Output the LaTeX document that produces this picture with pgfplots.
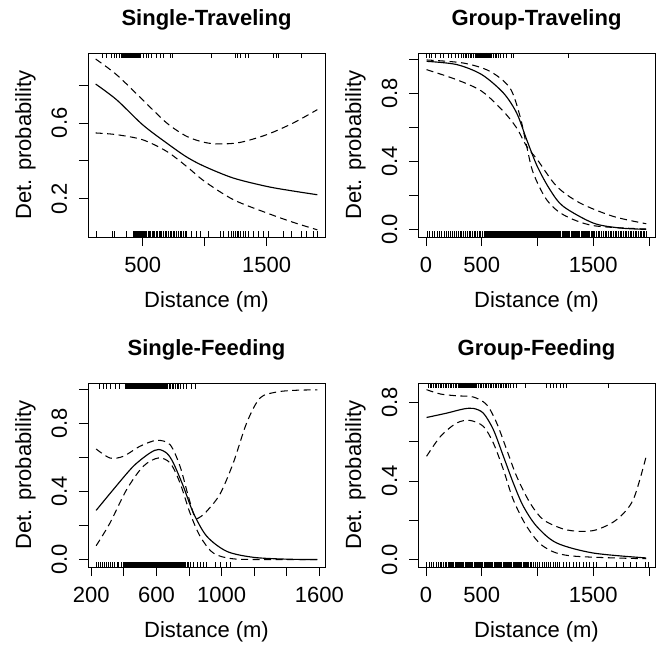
\documentclass[border=0pt]{standalone}
\usepackage{pgfplots}
\pgfplotsset{compat=1.18}
\usepackage{fontspec}
\setmainfont{Liberation Sans}
\pgfdeclareplotmark{rugb}{\pgfpathmoveto{\pgfpointorigin}\pgfpathlineto{\pgfpoint{0pt}{5.5pt}}\pgfusepathqstroke}
\pgfdeclareplotmark{rugt}{\pgfpathmoveto{\pgfpointorigin}\pgfpathlineto{\pgfpoint{0pt}{-5.5pt}}\pgfusepathqstroke}
\pgfplotsset{
  rpanel/.style={
    scale only axis, width=237pt, height=184pt,
    axis line style={line width=0.8pt},
    tick align=outside, major tick length=9pt,
    tick style={line width=0.8pt, black},
    xtick pos=bottom, ytick pos=left,
    font=\fontsize{22}{26}\selectfont,
    /pgf/number format/assume math mode=true,
    xticklabel style={anchor=base, font=\fontsize{22}{26}\selectfont},
    xticklabel shift=26pt,
    yticklabel style={rotate=90, anchor=base, font=\fontsize{22}{26}\selectfont},
    yticklabel shift=12pt,
    title style={at={(axis description cs:0.5,1)}, anchor=base, yshift=21.5pt, font=\fontsize{22}{26}\selectfont\bfseries},
    xlabel style={at={([yshift=-70pt]axis description cs:0.5,0)}, anchor=base},
    ylabel style={at={([xshift=-57pt]axis description cs:0,0.5)}, anchor=base, rotate=0},
    xlabel={Distance (m)}, ylabel={Det. probability},
  },
  fit/.style={black, line width=1.15pt, smooth, no marks},
  ci/.style={black, line width=1.05pt, smooth, no marks, dash pattern=on 7pt off 4.5pt},
  rugB/.style={only marks, mark=rugb, mark options={line width=0.9pt, black}},
  rugT/.style={only marks, mark=rugt, mark options={line width=0.9pt, black}},
}
\begin{document}
\begin{tikzpicture}
\useasboundingbox (0,0) rectangle (660pt,646pt);
% ---------------- Single-Traveling
\begin{axis}[rpanel, at={(88pt,409pt)}, anchor=south west,
  title={Single-Traveling},
  xmin=59, xmax=1970, ymin=-0.002, ymax=0.969,
  xtick={500,1000,1500}, xticklabels={500,{},1500},
  ytick={0.2,0.4,0.6,0.8}, yticklabels={0.2,{},0.6,{}}]
\addplot[fit] coordinates {(121,0.805) (290,0.722) (500,0.590) (693,0.494) (855,0.420) (1000,0.370) (1231,0.309) (1500,0.265) (1700,0.242) (1908,0.221)};
\addplot[ci] coordinates {(121,0.937) (290,0.854) (500,0.722) (693,0.600) (855,0.529) (1000,0.497) (1124,0.489) (1285,0.497) (1500,0.538) (1715,0.600) (1908,0.670)};
\addplot[ci] coordinates {(121,0.547) (290,0.538) (500,0.511) (693,0.450) (855,0.370) (1000,0.291) (1231,0.195) (1500,0.125) (1715,0.075) (1908,0.036)};
\addplot[rugT] coordinates {(177,0.969) (204,0.969) (250,0.969) (271,0.969) (290,0.969) (311,0.969) (331,0.969) (338,0.969) (345,0.969) (356,0.969) (362,0.969) (368,0.969) (378,0.969) (384,0.969) (390,0.969) (400,0.969) (405,0.969) (410,0.969) (420,0.969) (426,0.969) (432,0.969) (442,0.969) (448,0.969) (455,0.969) (466,0.969) (472,0.969) (478,0.969) (505,0.969) (532,0.969) (545,0.969) (573,0.969) (613,0.969) (640,0.969) (666,0.969) (720,0.969) (742,0.969) (1056,0.969) (1244,0.969) (1263,0.969) (1285,0.969) (1325,0.969) (1352,0.969) (1553,0.969) (1575,0.969) (1594,0.969) (1782,0.969)};
\addplot[rugB] coordinates {(129,-0.002) (255,-0.002) (271,-0.002) (371,-0.002) (424,-0.002) (430,-0.002) (436,-0.002) (442,-0.002) (448,-0.002) (454,-0.002) (460,-0.002) (465,-0.002) (470,-0.002) (478,-0.002) (484,-0.002) (490,-0.002) (500,-0.002) (506,-0.002) (512,-0.002) (518,-0.002) (524,-0.002) (532,-0.002) (545,-0.002) (556,-0.002) (566,-0.002) (578,-0.002) (586,-0.002) (598,-0.002) (610,-0.002) (620,-0.002) (632,-0.002) (640,-0.002) (652,-0.002) (664,-0.002) (680,-0.002) (694,-0.002) (706,-0.002) (720,-0.002) (735,-0.002) (747,-0.002) (760,-0.002) (775,-0.002) (790,-0.002) (801,-0.002) (815,-0.002) (830,-0.002) (842,-0.002) (855,-0.002) (895,-0.002) (935,-0.002) (962,-0.002) (1029,-0.002) (1124,-0.002) (1150,-0.002) (1190,-0.002) (1215,-0.002) (1231,-0.002) (1250,-0.002) (1262,-0.002) (1271,-0.002) (1290,-0.002) (1311,-0.002) (1330,-0.002) (1352,-0.002) (1392,-0.002) (1432,-0.002) (1473,-0.002) (1513,-0.002) (1634,-0.002) (1702,-0.002) (1782,-0.002) (1823,-0.002) (1876,-0.002) (1908,-0.002)};
\end{axis}
% ---------------- Group-Traveling
\begin{axis}[rpanel, at={(418pt,409pt)}, anchor=south west,
  title={Group-Traveling},
  xmin=-72, xmax=2054, ymin=-0.043, ymax=1.039,
  xtick={0,500,1000,1500,2000}, xticklabels={0,500,{},1500,{}},
  ytick={0,0.2,0.4,0.6,0.8,1}, yticklabels={0.0,{},0.4,{},0.8,{}}]
\addplot[fit] coordinates {(5,0.990) (275,0.971) (500,0.912) (694,0.804) (813,0.686) (903,0.529) (998,0.372) (1112,0.235) (1231,0.137) (1500,0.039) (1740,0.010) (1975,0.002)};
\addplot[ci] coordinates {(5,0.998) (335,0.980) (574,0.931) (753,0.833) (843,0.667) (903,0.490) (962,0.333) (1082,0.176) (1231,0.088) (1500,0.024) (1975,0.004)};
\addplot[ci] coordinates {(5,0.941) (275,0.882) (500,0.814) (694,0.696) (813,0.598) (903,0.490) (998,0.412) (1172,0.255) (1381,0.157) (1680,0.078) (1975,0.035)};
\addplot[rugT] coordinates {(6,1.039) (27,1.039) (51,1.039) (81,1.039) (132,1.039) (155,1.039) (200,1.039) (230,1.039) (260,1.039) (289,1.039) (319,1.039) (335,1.039) (350,1.039) (365,1.039) (380,1.039) (395,1.039) (410,1.039) (425,1.039) (440,1.039) (455,1.039) (462,1.039) (470,1.039) (478,1.039) (485,1.039) (492,1.039) (500,1.039) (508,1.039) (515,1.039) (522,1.039) (530,1.039) (538,1.039) (545,1.039) (552,1.039) (560,1.039) (568,1.039) (575,1.039) (582,1.039) (590,1.039) (605,1.039) (620,1.039) (635,1.039) (650,1.039) (664,1.039) (694,1.039) (724,1.039) (769,1.039) (783,1.039) (1276,1.039)};
\addplot[rugB] coordinates {(10,-0.043) (30,-0.043) (55,-0.043) (75,-0.043) (100,-0.043) (120,-0.043) (140,-0.043) (165,-0.043) (185,-0.043) (200,-0.043) (220,-0.043) (240,-0.043) (255,-0.043) (270,-0.043) (290,-0.043) (305,-0.043) (320,-0.043) (340,-0.043) (355,-0.043) (370,-0.043) (385,-0.043) (400,-0.043) (415,-0.043) (430,-0.043) (445,-0.043) (460,-0.043) (475,-0.043) (490,-0.043) (505,-0.043) (520,-0.043) (525,-0.043) (530,-0.043) (535,-0.043) (540,-0.043) (545,-0.043) (550,-0.043) (555,-0.043) (560,-0.043) (565,-0.043) (570,-0.043) (575,-0.043) (580,-0.043) (585,-0.043) (590,-0.043) (595,-0.043) (600,-0.043) (605,-0.043) (610,-0.043) (615,-0.043) (620,-0.043) (625,-0.043) (630,-0.043) (635,-0.043) (640,-0.043) (645,-0.043) (650,-0.043) (655,-0.043) (660,-0.043) (665,-0.043) (670,-0.043) (675,-0.043) (680,-0.043) (685,-0.043) (690,-0.043) (695,-0.043) (700,-0.043) (705,-0.043) (710,-0.043) (715,-0.043) (720,-0.043) (725,-0.043) (730,-0.043) (735,-0.043) (740,-0.043) (745,-0.043) (750,-0.043) (755,-0.043) (760,-0.043) (765,-0.043) (770,-0.043) (775,-0.043) (780,-0.043) (785,-0.043) (790,-0.043) (795,-0.043) (800,-0.043) (805,-0.043) (810,-0.043) (815,-0.043) (820,-0.043) (825,-0.043) (830,-0.043) (835,-0.043) (840,-0.043) (845,-0.043) (850,-0.043) (855,-0.043) (860,-0.043) (865,-0.043) (870,-0.043) (875,-0.043) (880,-0.043) (885,-0.043) (890,-0.043) (895,-0.043) (900,-0.043) (905,-0.043) (910,-0.043) (915,-0.043) (920,-0.043) (925,-0.043) (930,-0.043) (937,-0.043) (945,-0.043) (952,-0.043) (960,-0.043) (967,-0.043) (975,-0.043) (982,-0.043) (990,-0.043) (997,-0.043) (1005,-0.043) (1012,-0.043) (1020,-0.043) (1027,-0.043) (1035,-0.043) (1042,-0.043) (1050,-0.043) (1057,-0.043) (1065,-0.043) (1072,-0.043) (1080,-0.043) (1087,-0.043) (1095,-0.043) (1102,-0.043) (1110,-0.043) (1117,-0.043) (1125,-0.043) (1132,-0.043) (1140,-0.043) (1150,-0.043) (1160,-0.043) (1170,-0.043) (1180,-0.043) (1190,-0.043) (1200,-0.043) (1210,-0.043) (1220,-0.043) (1230,-0.043) (1240,-0.043) (1250,-0.043) (1260,-0.043) (1270,-0.043) (1280,-0.043) (1290,-0.043) (1300,-0.043) (1310,-0.043) (1320,-0.043) (1330,-0.043) (1340,-0.043) (1350,-0.043) (1360,-0.043) (1370,-0.043) (1380,-0.043) (1390,-0.043) (1400,-0.043) (1410,-0.043) (1420,-0.043) (1430,-0.043) (1440,-0.043) (1450,-0.043) (1460,-0.043) (1470,-0.043) (1480,-0.043) (1490,-0.043) (1500,-0.043) (1515,-0.043) (1530,-0.043) (1545,-0.043) (1560,-0.043) (1575,-0.043) (1590,-0.043) (1605,-0.043) (1620,-0.043) (1635,-0.043) (1650,-0.043) (1665,-0.043) (1680,-0.043) (1695,-0.043) (1710,-0.043) (1725,-0.043) (1740,-0.043) (1755,-0.043) (1770,-0.043) (1785,-0.043) (1800,-0.043) (1815,-0.043) (1830,-0.043) (1845,-0.043) (1860,-0.043) (1875,-0.043) (1890,-0.043) (1905,-0.043) (1920,-0.043) (1935,-0.043) (1950,-0.043) (1962,-0.043) (1975,-0.043)};
\end{axis}
% ---------------- Single-Feeding
\begin{axis}[rpanel, at={(88pt,79pt)}, anchor=south west,
  title={Single-Feeding},
  xmin=180, xmax=1635, ymin=-0.043, ymax=1.039,
  xtick={200,400,600,800,1000,1200,1400,1600}, xticklabels={200,{},600,{},1000,{},{},1600},
  ytick={0,0.2,0.4,0.6,0.8,1}, yticklabels={0.0,{},0.4,{},0.8,{}}]
\addplot[fit] coordinates {(230,0.290) (335,0.412) (458,0.549) (561,0.628) (615,0.648) (665,0.625) (704,0.569) (765,0.432) (827,0.275) (909,0.138) (1032,0.049) (1195,0.014) (1400,0.003) (1588,0.001)};
\addplot[ci] coordinates {(230,0.651) (315,0.598) (397,0.608) (499,0.667) (602,0.702) (684,0.676) (745,0.549) (796,0.373) (837,0.249) (870,0.252) (909,0.285) (990,0.385) (1072,0.569) (1154,0.804) (1236,0.951) (1339,0.986) (1450,0.996) (1588,0.999)};
\addplot[ci] coordinates {(230,0.082) (315,0.216) (417,0.412) (519,0.549) (611,0.598) (684,0.569) (745,0.451) (806,0.275) (868,0.138) (950,0.039) (1072,0.005) (1300,0.001) (1588,0.000)};
\addplot[rugT] coordinates {(253,1.039) (274,1.039) (295,1.039) (315,1.039) (346,1.039) (372,1.039) (407,1.039) (412,1.039) (417,1.039) (422,1.039) (427,1.039) (432,1.039) (437,1.039) (442,1.039) (447,1.039) (452,1.039) (457,1.039) (462,1.039) (467,1.039) (472,1.039) (477,1.039) (482,1.039) (487,1.039) (492,1.039) (497,1.039) (502,1.039) (507,1.039) (512,1.039) (517,1.039) (522,1.039) (527,1.039) (532,1.039) (537,1.039) (542,1.039) (547,1.039) (552,1.039) (557,1.039) (562,1.039) (567,1.039) (572,1.039) (577,1.039) (582,1.039) (587,1.039) (592,1.039) (597,1.039) (602,1.039) (607,1.039) (612,1.039) (617,1.039) (622,1.039) (627,1.039) (632,1.039) (637,1.039) (642,1.039) (647,1.039) (652,1.039) (657,1.039) (662,1.039) (667,1.039) (677,1.039) (687,1.039) (697,1.039) (707,1.039) (717,1.039) (727,1.039) (737,1.039) (745,1.039) (765,1.039) (786,1.039) (817,1.039) (837,1.039)};
\addplot[rugB] coordinates {(233,-0.043) (245,-0.043) (258,-0.043) (270,-0.043) (282,-0.043) (295,-0.043) (308,-0.043) (320,-0.043) (333,-0.043) (345,-0.043) (358,-0.043) (370,-0.043) (383,-0.043) (397,-0.043) (401,-0.043) (405,-0.043) (409,-0.043) (413,-0.043) (417,-0.043) (421,-0.043) (425,-0.043) (429,-0.043) (433,-0.043) (437,-0.043) (441,-0.043) (445,-0.043) (449,-0.043) (453,-0.043) (457,-0.043) (461,-0.043) (465,-0.043) (469,-0.043) (473,-0.043) (477,-0.043) (481,-0.043) (485,-0.043) (489,-0.043) (493,-0.043) (497,-0.043) (501,-0.043) (505,-0.043) (509,-0.043) (513,-0.043) (517,-0.043) (521,-0.043) (525,-0.043) (529,-0.043) (533,-0.043) (537,-0.043) (541,-0.043) (545,-0.043) (549,-0.043) (553,-0.043) (557,-0.043) (561,-0.043) (565,-0.043) (569,-0.043) (573,-0.043) (577,-0.043) (581,-0.043) (585,-0.043) (589,-0.043) (593,-0.043) (597,-0.043) (601,-0.043) (605,-0.043) (609,-0.043) (613,-0.043) (617,-0.043) (621,-0.043) (625,-0.043) (629,-0.043) (633,-0.043) (637,-0.043) (641,-0.043) (645,-0.043) (649,-0.043) (653,-0.043) (657,-0.043) (661,-0.043) (665,-0.043) (669,-0.043) (673,-0.043) (677,-0.043) (681,-0.043) (685,-0.043) (689,-0.043) (693,-0.043) (697,-0.043) (701,-0.043) (705,-0.043) (709,-0.043) (713,-0.043) (717,-0.043) (721,-0.043) (725,-0.043) (729,-0.043) (733,-0.043) (737,-0.043) (741,-0.043) (745,-0.043) (749,-0.043) (753,-0.043) (757,-0.043) (765,-0.043) (773,-0.043) (781,-0.043) (789,-0.043) (797,-0.043) (806,-0.043) (830,-0.043) (850,-0.043) (868,-0.043) (890,-0.043) (909,-0.043) (960,-0.043) (991,-0.043) (1032,-0.043) (1052,-0.043)};
\end{axis}
% ---------------- Group-Feeding
\begin{axis}[rpanel, at={(418pt,79pt)}, anchor=south west,
  title={Group-Feeding},
  xmin=-72, xmax=2054, ymin=-0.037, ymax=0.897,
  xtick={0,500,1000,1500,2000}, xticklabels={0,500,{},1500,{}},
  ytick={0,0.2,0.4,0.6,0.8}, yticklabels={0.0,{},0.4,{},0.8}]
\addplot[fit] coordinates {(5,0.722) (185,0.744) (335,0.765) (424,0.768) (514,0.744) (604,0.660) (694,0.525) (783,0.389) (873,0.271) (993,0.169) (1172,0.085) (1500,0.034) (1975,0.009)};
\addplot[ci] coordinates {(5,0.863) (130,0.841) (275,0.832) (424,0.826) (544,0.787) (634,0.694) (724,0.558) (813,0.423) (933,0.288) (1052,0.203) (1231,0.156) (1381,0.144) (1530,0.152) (1709,0.203) (1858,0.304) (1975,0.525)};
\addplot[ci] coordinates {(5,0.525) (130,0.626) (275,0.694) (394,0.707) (514,0.677) (604,0.592) (694,0.457) (783,0.304) (903,0.169) (1052,0.068) (1291,0.020) (1975,0.005)};
\addplot[rugT] coordinates {(21,0.897) (36,0.897) (50,0.897) (65,0.897) (80,0.897) (95,0.897) (110,0.897) (125,0.897) (140,0.897) (155,0.897) (170,0.897) (185,0.897) (200,0.897) (215,0.897) (230,0.897) (245,0.897) (260,0.897) (275,0.897) (290,0.897) (297,0.897) (305,0.897) (312,0.897) (320,0.897) (327,0.897) (335,0.897) (342,0.897) (350,0.897) (357,0.897) (365,0.897) (372,0.897) (380,0.897) (387,0.897) (395,0.897) (402,0.897) (410,0.897) (417,0.897) (425,0.897) (432,0.897) (440,0.897) (447,0.897) (455,0.897) (470,0.897) (485,0.897) (500,0.897) (515,0.897) (530,0.897) (545,0.897) (560,0.897) (575,0.897) (590,0.897) (605,0.897) (620,0.897) (635,0.897) (650,0.897) (665,0.897) (680,0.897) (695,0.897) (710,0.897) (725,0.897) (740,0.897) (753,0.897) (783,0.897) (813,0.897) (888,0.897) (1082,0.897) (1112,0.897) (1142,0.897) (1172,0.897) (1202,0.897) (1231,0.897) (1262,0.897) (1635,0.897)};
\addplot[rugB] coordinates {(6,-0.037) (30,-0.037) (50,-0.037) (70,-0.037) (90,-0.037) (110,-0.037) (125,-0.037) (140,-0.037) (155,-0.037) (170,-0.037) (185,-0.037) (200,-0.037) (210,-0.037) (220,-0.037) (230,-0.037) (240,-0.037) (250,-0.037) (260,-0.037) (270,-0.037) (280,-0.037) (290,-0.037) (300,-0.037) (310,-0.037) (320,-0.037) (330,-0.037) (340,-0.037) (350,-0.037) (360,-0.037) (370,-0.037) (380,-0.037) (390,-0.037) (400,-0.037) (410,-0.037) (420,-0.037) (430,-0.037) (440,-0.037) (450,-0.037) (460,-0.037) (470,-0.037) (480,-0.037) (490,-0.037) (500,-0.037) (510,-0.037) (520,-0.037) (530,-0.037) (540,-0.037) (550,-0.037) (560,-0.037) (570,-0.037) (580,-0.037) (590,-0.037) (600,-0.037) (610,-0.037) (620,-0.037) (630,-0.037) (640,-0.037) (650,-0.037) (660,-0.037) (670,-0.037) (680,-0.037) (690,-0.037) (700,-0.037) (710,-0.037) (720,-0.037) (730,-0.037) (740,-0.037) (750,-0.037) (760,-0.037) (770,-0.037) (780,-0.037) (790,-0.037) (800,-0.037) (810,-0.037) (820,-0.037) (830,-0.037) (840,-0.037) (850,-0.037) (860,-0.037) (870,-0.037) (880,-0.037) (890,-0.037) (900,-0.037) (910,-0.037) (920,-0.037) (935,-0.037) (950,-0.037) (965,-0.037) (980,-0.037) (1000,-0.037) (1020,-0.037) (1040,-0.037) (1060,-0.037) (1080,-0.037) (1100,-0.037) (1120,-0.037) (1140,-0.037) (1160,-0.037) (1180,-0.037) (1200,-0.037) (1230,-0.037) (1260,-0.037) (1290,-0.037) (1320,-0.037) (1350,-0.037) (1380,-0.037) (1410,-0.037) (1440,-0.037) (1470,-0.037) (1500,-0.037) (1531,-0.037) (1620,-0.037) (1710,-0.037) (1770,-0.037) (1830,-0.037) (1890,-0.037) (1964,-0.037) (1994,-0.037)};
\end{axis}
\end{tikzpicture}
\end{document}
